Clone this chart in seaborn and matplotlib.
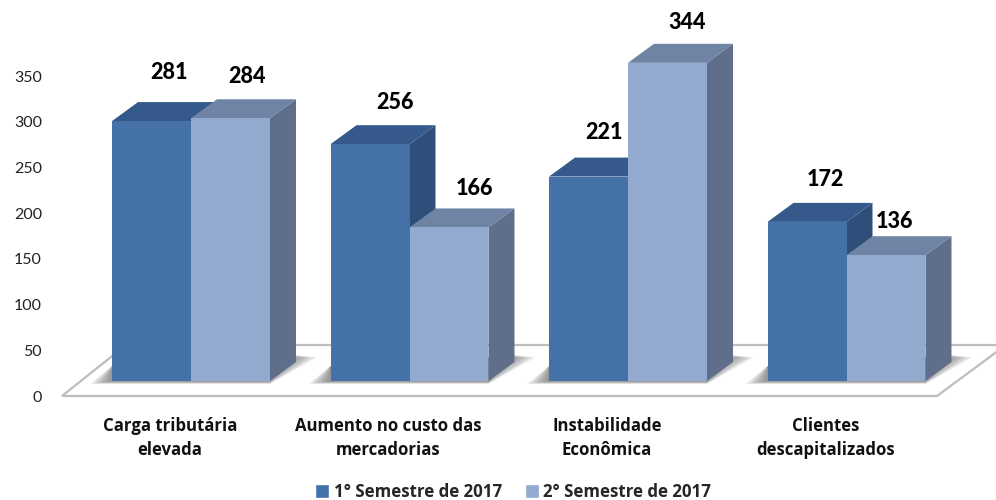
import pandas as pd
import matplotlib
matplotlib.use("Agg")
import matplotlib.pyplot as plt
from matplotlib.patches import Polygon
import seaborn as sns

categorias = ["Carga tributária\nelevada", "Aumento no custo das\nmercadorias",
              "Instabilidade\nEconômica", "Clientes\ndescapitalizados"]
series = ["1° Semestre de 2017", "2° Semestre de 2017"]
sem1 = [281, 256, 221, 172]
sem2 = [284, 166, 344, 136]
ticks = [0, 50, 100, 150, 200, 250, 300, 350]

# deslocamento manual dos rotulos em relacao ao centro/topo de cada barra (px)
rot_dx1 = [17, 25, 15, 18]
rot_dy1 = [49, 42, 44, 42]
rot_dx2 = [17, 25, 20, 8]
rot_dy2 = [42, 39, 40, 34]

cores_frente = ["#4472a8", "#92a9d0"]
cores_topo = ["#34598a", "#6f83a5"]
cores_lado = ["#2f4f7a", "#5f6f8b"]

W, H = 996, 500
PX_X = 218.5      # px por categoria
PX_Y = 0.925      # px por unidade
X0, Y0 = 191, 381 # pixel do centro da primeira categoria e da base das barras
DX, DY = 26, 19   # profundidade do efeito 3D
AX_L, AX_B = 60, 398

sns.set_theme(style="white")
plt.rcParams["font.family"] = ["Lato", "DejaVu Sans"]


def fx(px):
    return (px - X0) / PX_X


def fy(py):
    return (Y0 - py) / PX_Y


df = pd.DataFrame({
    "categoria": categorias * 2,
    "serie": [series[0]] * 4 + [series[1]] * 4,
    "valor": sem1 + sem2,
})

fig = plt.figure(figsize=(W / 100, H / 100), dpi=100)
ax = fig.add_axes([AX_L / W, 1 - AX_B / H, (W - AX_L) / W, AX_B / H])

sns.barplot(data=df, x="categoria", y="valor", hue="serie", palette=cores_frente,
            width=0.723, saturation=1, ax=ax)

# piso
ax.add_patch(Polygon([(fx(62), fy(396)), (fx(937), fy(396)), (fx(1006), fy(345)), (fx(126), fy(345))],
                     facecolor="white", edgecolor="#bdbdbd", linewidth=1.6, zorder=0.5))

dx, dy = DX / PX_X, DY / PX_Y
offs = [(rot_dx1, rot_dy1), (rot_dx2, rot_dy2)]

# sombras no piso
for i in range(4):
    esq = ax.containers[0][i].get_x()
    dir_ = ax.containers[1][i].get_x() + ax.containers[1][i].get_width()
    for k in range(9):
        e = k * 2.5
        pts = [(esq - (2 + e) / PX_X, -(0.5 + k * 0.3) / PX_Y),
               (dir_, -(0.5 + k * 0.3) / PX_Y),
               (dir_ + (DX + 1 + e) / PX_X, (DY + 7 - k * 0.3) / PX_Y),
               (dir_ + (DX - 3) / PX_X, (DY + 7 - k * 0.3) / PX_Y),
               (esq, 15 / PX_Y)]
        ax.add_patch(Polygon(pts, facecolor="#666666", edgecolor="none", alpha=0.11, zorder=0.8))

# faces laterais e topo de cada barra
for s, cont in enumerate(ax.containers):
    base = 1 + s * 2
    for i, bar in enumerate(cont):
        x, w, h = bar.get_x(), bar.get_width(), bar.get_height()
        bar.set_zorder(base + 1)
        bar.set_edgecolor("none")
        ax.add_patch(Polygon([(x + w, 0), (x + w + dx, dy), (x + w + dx, h + dy), (x + w, h)],
                             facecolor=cores_lado[s], edgecolor="none", zorder=base))
        ax.add_patch(Polygon([(x, h), (x + dx, h + dy), (x + w + dx, h + dy), (x + w, h)],
                             facecolor=cores_topo[s], edgecolor="none", zorder=base + 0.5))
        ax.annotate(f"{h:.0f}", (x + w / 2, h),
                    xytext=(offs[s][0][i] * 0.72, offs[s][1][i] * 0.72), textcoords="offset points",
                    ha="center", va="center", fontsize=15.5, fontweight=900, color="black")

ax.set_xlim(fx(AX_L), fx(W))
ax.set_ylim(fy(AX_B), fy(0))
ax.set_xlabel("")
ax.set_ylabel("")
ax.set_yticks([(v * 0.914 - 15) / PX_Y for v in ticks])
ax.set_yticklabels([str(v) for v in ticks], fontsize=11.5, color="#222222")
ax.set_xticks([i - 0.096 for i in range(4)])
ax.set_xticklabels(categorias, fontsize=12.1, fontweight="bold", color="#111111",
                   family="Open Sans", linespacing=1.42)
ax.tick_params(axis="y", length=0, pad=13)
ax.tick_params(axis="x", length=0, pad=13.5)
sns.despine(ax=ax, left=True, bottom=True)

sns.move_legend(ax, "center", bbox_to_anchor=(513 / W, 1 - 492 / H), bbox_transform=fig.transFigure,
                ncol=2, frameon=False, title=None, handlelength=0.85, handleheight=0.85,
                handletextpad=0.25, columnspacing=1.35,
                prop={"size": 12.2, "weight": "bold", "family": "Open Sans"})

fig.savefig("out.png", dpi=100)
